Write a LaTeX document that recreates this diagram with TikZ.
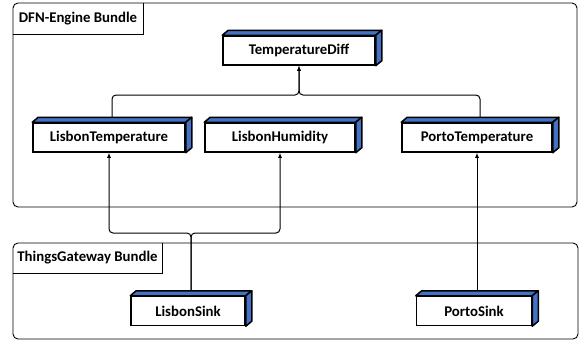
\documentclass[tikz,border=0pt]{standalone}
\usepackage{fontspec}
\setmainfont{Carlito}
\usetikzlibrary{arrows.meta,calc}
\definecolor{cubeblue}{RGB}{68,114,196}
\tikzset{
  cube/.style={draw, fill=white, line width=1.5pt, minimum height=29pt, inner sep=0pt,
    font=\fontsize{14.8}{16}\selectfont\bfseries},
  face/.style={draw, fill=cubeblue, line width=1.5pt, line join=round},
  container/.style={draw, line width=0.9pt, rounded corners=5pt},
  lab/.style={inner sep=0pt, font=\fontsize{14.8}{16}\selectfont\bfseries},
  labline/.style={draw, line width=0.9pt},
  conn/.style={draw, line width=1pt, rounded corners=4pt, -{Latex[length=5pt,width=4pt]}},
}
\begin{document}
\begin{tikzpicture}[x=1pt,y=-1pt]
\useasboundingbox (0,0) rectangle (580,341);
% containers
\draw[container] (13,3) rectangle (577,207);
\draw[container] (13,243) rectangle (578,339);
\node[lab, minimum width=130pt, minimum height=31pt] (dfnlab) at (78,18.5) {DFN-Engine Bundle};
\draw[labline] (dfnlab.south west) -- (dfnlab.south east) -- (dfnlab.north east);
\node[lab, minimum width=149pt, minimum height=30pt] (tglab) at (87.5,258) {ThingsGateway Bundle};
\draw[labline] (tglab.south west) -- (tglab.south east) -- (tglab.north east);
% cubes
\node[cube, minimum width=152pt] (td) at (299,50.5) {TemperatureDiff};
\node[cube, minimum width=152pt] (lt) at (109,137.5) {LisbonTemperature};
\node[cube, minimum width=150pt] (lh) at (280,137.5) {LisbonHumidity};
\node[cube, minimum width=150pt] (pt) at (477,137.5) {PortoTemperature};
\node[cube, minimum width=114pt] (ls) at (188,311) {LisbonSink};
\node[cube, minimum width=115pt] (ps) at (474,311) {PortoSink};
\foreach \n in {td,lt,lh,pt,ls,ps}{
  \draw[face] (\n.north west) -- ++(6,-5) -- ([shift={(6,-5)}]\n.north east) -- (\n.north east) -- cycle;
  \draw[face] (\n.north east) -- ++(6,-5) -- ([shift={(6,-5)}]\n.south east) -- (\n.south east) -- cycle;
  \coordinate (\n T) at ([shift={(3,-5)}]\n.north);
}
\coordinate (jtop) at (0,95);
\coordinate (jbot) at (0,233);
% connectors
\draw[conn] (ltT) |- (td.south |- jtop) -- (td.south);
\draw[conn] (ptT) |- (td.south |- jtop) -- (td.south);
\draw[conn] (lsT) |- (lt.south |- jbot) -- (lt.south);
\draw[conn] (lsT) |- (lh.south |- jbot) -- (lh.south);
\draw[conn] (psT) -- (pt.south);
\end{tikzpicture}
\end{document}
